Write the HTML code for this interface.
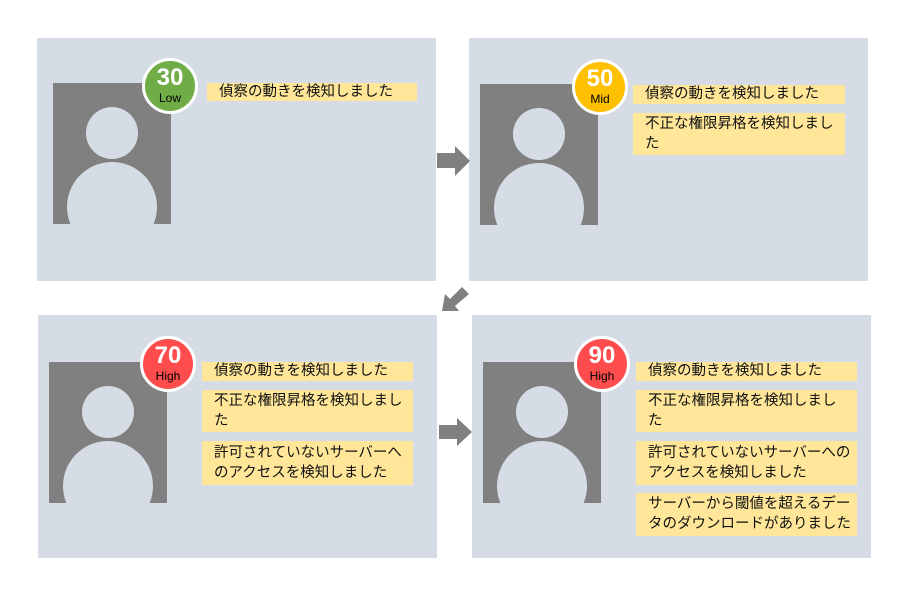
<!DOCTYPE html>
<html><head><meta charset="utf-8"><style>
body{margin:0;width:912px;height:600px;background:#fff;position:relative;overflow:hidden;font-family:"Liberation Sans","Noto Sans CJK JP",sans-serif}
.p{position:absolute;background:#d6dce5;width:399px;height:243px}
.ps{position:absolute;width:118px;height:141px;background:#808080;overflow:hidden}
.h{position:absolute;width:52px;height:52px;border-radius:50%;background:#d6dce5;left:33px;top:24px}
.b{position:absolute;width:90px;height:90px;border-radius:50%;background:#d6dce5;left:14px;top:79px}
.bd{position:absolute;width:50px;height:50px;border-radius:50%;border:3px solid #fff;text-align:center;color:#000}
.bd .n{position:absolute;left:0;right:0;top:4px;font-size:24px;font-weight:bold;color:#fff;line-height:26px}
.bd .l{position:absolute;left:0;right:0;top:31px;font-size:12px;line-height:13px}
.t{position:absolute;background:#ffe699;font-size:14.5px;line-height:20px;padding:0 0 0 12px;box-sizing:border-box;color:#111;white-space:nowrap}
</style></head><body>
<div class="p" style="left:37px;top:38px"></div>
<div class="p" style="left:469px;top:38px"></div>
<div class="p" style="left:38px;top:315px"></div>
<div class="p" style="left:472px;top:315px"></div>

<div class="ps" style="left:53px;top:83px"><div class="h"></div><div class="b"></div></div>
<div class="ps" style="left:480px;top:84px"><div class="h"></div><div class="b"></div></div>
<div class="ps" style="left:49px;top:362px"><div class="h"></div><div class="b"></div></div>
<div class="ps" style="left:483px;top:362px"><div class="h"></div><div class="b"></div></div>

<div class="bd" style="left:142px;top:58px;background:#70ad47"><div class="n">30</div><div class="l">Low</div></div>
<div class="bd" style="left:572px;top:59px;background:#ffc000"><div class="n">50</div><div class="l">Mid</div></div>
<div class="bd" style="left:140px;top:336px;background:#ff4d4d"><div class="n">70</div><div class="l">High</div></div>
<div class="bd" style="left:574px;top:336px;background:#ff4d4d"><div class="n">90</div><div class="l">High</div></div>

<div class="t" style="left:207px;top:83px;width:210px;height:18px;line-height:18px">偵察の動きを検知しました</div>

<div class="t" style="left:633px;top:85px;width:212px;height:19px;line-height:19px">偵察の動きを検知しました</div>
<div class="t" style="left:633px;top:113px;width:212px;height:42px;padding-top:1px">不正な権限昇格を検知しまし<br>た</div>

<div class="t" style="left:202px;top:362px;width:211px;height:19px;line-height:19px">偵察の動きを検知しました</div>
<div class="t" style="left:202px;top:390px;width:211px;height:42px;padding-top:1px">不正な権限昇格を検知しまし<br>た</div>
<div class="t" style="left:202px;top:441px;width:211px;height:44px;padding-top:2px">許可されていないサーバーへ<br>のアクセスを検知しました</div>

<div class="t" style="left:636px;top:362px;width:221px;height:19px;line-height:19px">偵察の動きを検知しました</div>
<div class="t" style="left:636px;top:390px;width:221px;height:42px;padding-top:1px">不正な権限昇格を検知しまし<br>た</div>
<div class="t" style="left:636px;top:441px;width:221px;height:44px;padding-top:2px">許可されていないサーバーへの<br>アクセスを検知しました</div>
<div class="t" style="left:636px;top:493px;width:221px;height:43px;padding-top:1px">サーバーから閾値を超えるデー<br>タのダウンロードがありました</div>

<svg style="position:absolute;left:0;top:0" width="912" height="600">
<polygon points="437,153 455,153 455,146 470,161 455,176 455,168 437,168" fill="#808080"/>
<polygon points="439,425 457,425 457,418 472,432 457,446 457,439 439,439" fill="#808080"/>
<polygon points="469,294 462,287 450,299 445,294 442,311 459,311 455,306" fill="#808080"/>
</svg>
</body></html>
